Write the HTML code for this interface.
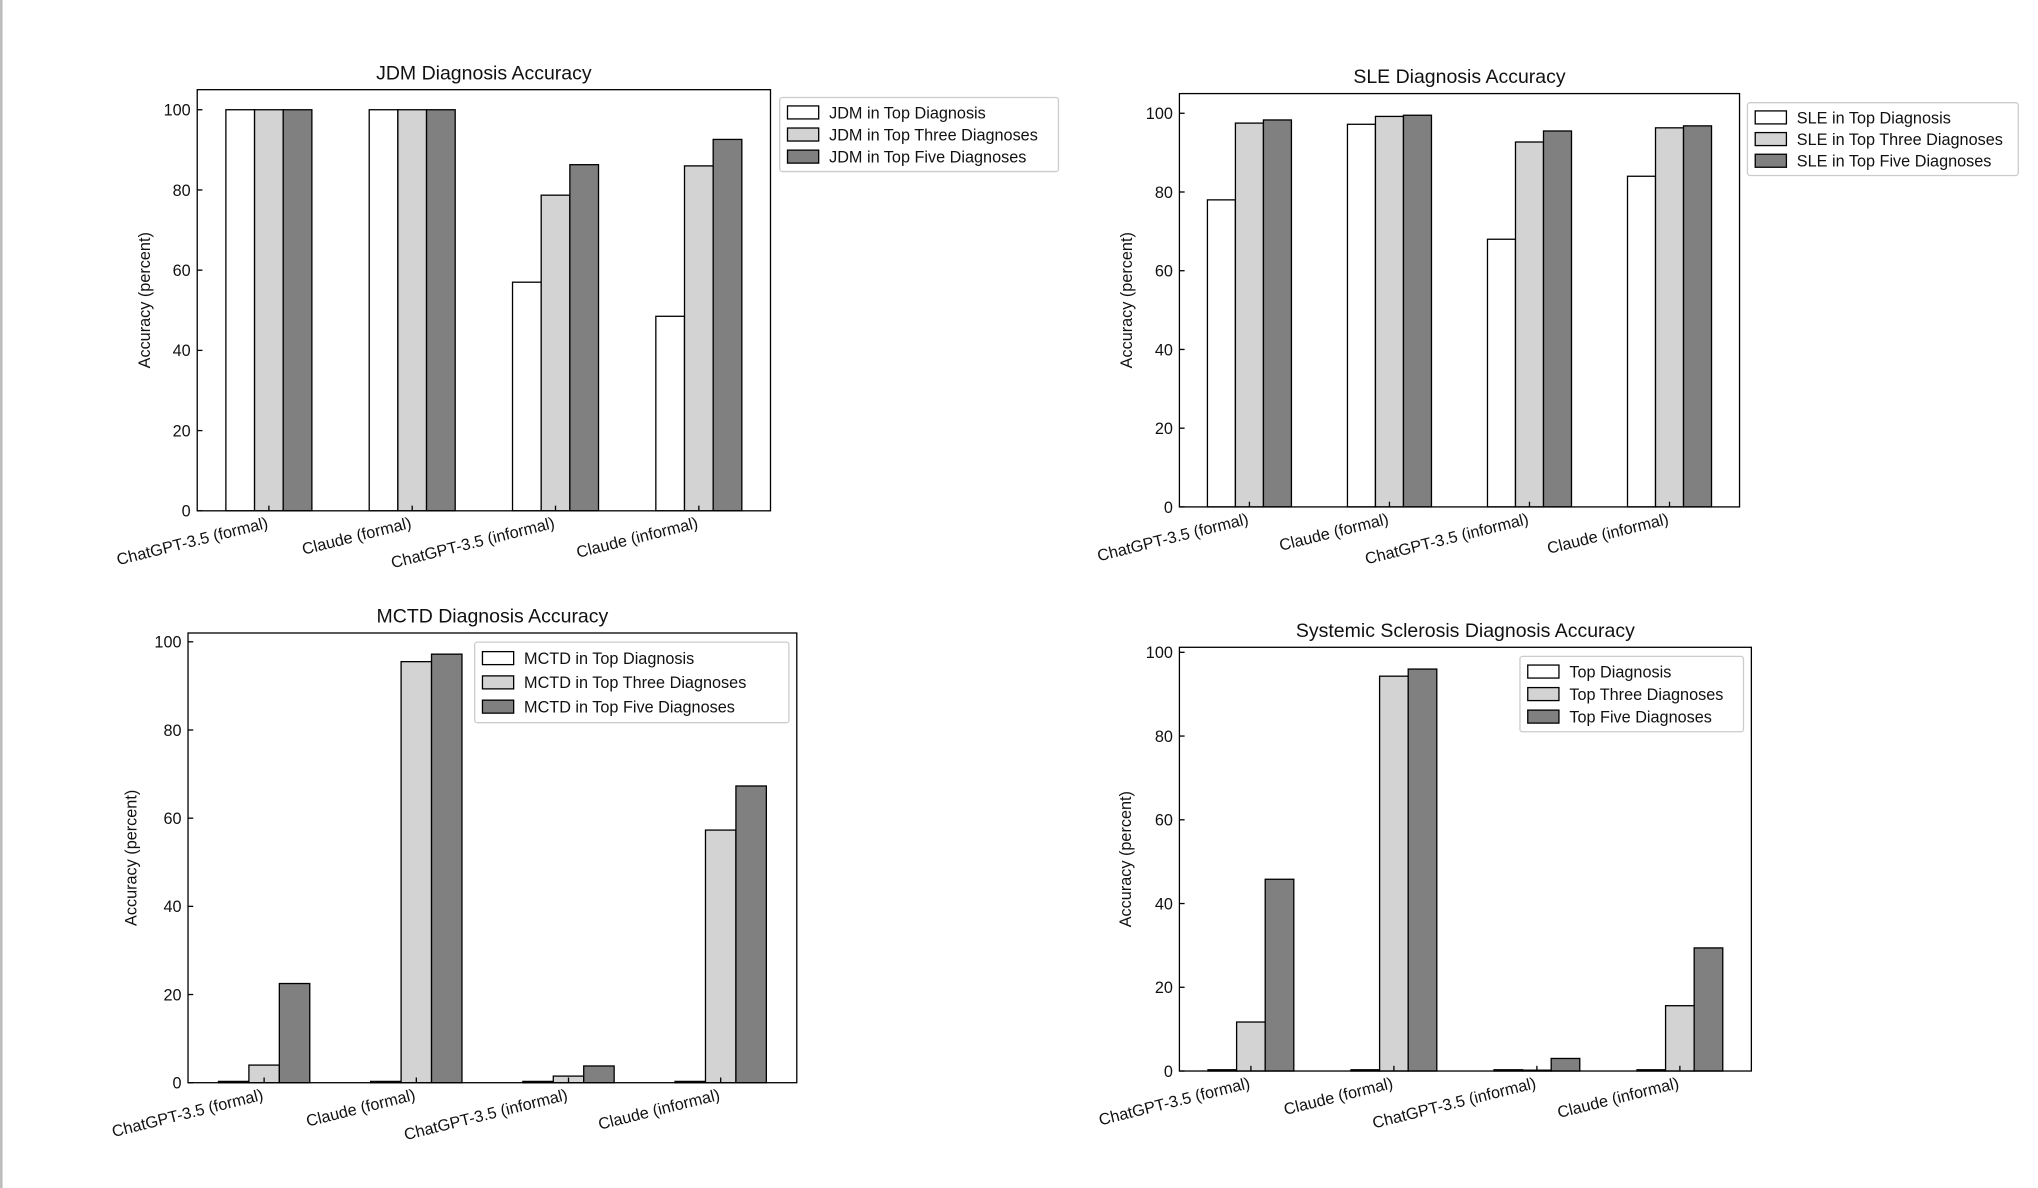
<!DOCTYPE html>
<html><head><meta charset="utf-8"><style>
html,body{margin:0;padding:0;background:#fff;}
svg{display:block;}
text{font-family:"Liberation Sans",sans-serif;fill:#111;}
</style></head><body>
<svg id="fig" width="2038" height="1188" viewBox="0 0 1568 914" preserveAspectRatio="none" xmlns="http://www.w3.org/2000/svg">
<rect x="0" y="0" width="1568" height="914" fill="#fff"/>
<rect x="0" y="0" width="2" height="914" fill="#bdbdbd"/>
</svg>
<script>
const categories = ["ChatGPT-3.5 (formal)", "Claude (formal)", "ChatGPT-3.5 (informal)", "Claude (informal)"];
const yTicks = [0, 20, 40, 60, 80, 100];
const jdmTop = [100, 100, 57, 48.5];
const jdmThree = [100, 100, 78.7, 86];
const jdmFive = [100, 100, 86.3, 92.6];
const sleTop = [78, 97.2, 68, 84];
const sleThree = [97.5, 99.2, 92.7, 96.3];
const sleFive = [98.3, 99.5, 95.5, 96.8];
const mctdTop = [0.3, 0.3, 0.3, 0.3];
const mctdThree = [4, 95.5, 1.5, 57.3];
const mctdFive = [22.5, 97.2, 3.8, 67.3];
const sscTop = [0.3, 0.3, 0.3, 0.3];
const sscThree = [11.7, 94.3, 0.2, 15.6];
const sscFive = [45.8, 96, 3, 29.4];
const jdmLegend = ["JDM in Top Diagnosis", "JDM in Top Three Diagnoses", "JDM in Top Five Diagnoses"];
const sleLegend = ["SLE in Top Diagnosis", "SLE in Top Three Diagnoses", "SLE in Top Five Diagnoses"];
const mctdLegend = ["MCTD in Top Diagnosis", "MCTD in Top Three Diagnoses", "MCTD in Top Five Diagnoses"];
const sscLegend = ["Top Diagnosis", "Top Three Diagnoses", "Top Five Diagnoses"];

const NS = "http://www.w3.org/2000/svg";
const svg = document.getElementById("fig");
const fills = ["#ffffff", "#d3d3d3", "#808080"];
const K = 1568 / 1550;
function mk(tag, attrs, parent) {
  const e = document.createElementNS(NS, tag);
  for (const k in attrs) e.setAttribute(k, attrs[k]);
  (parent || svg).appendChild(e);
  return e;
}
function panel(cfg) {
  const g = mk("g", {});
  
  
  const x0 = cfg.x0 * K, x1 = cfg.x1 * K, y0 = cfg.y0, y1 = cfg.y1, ymax = cfg.ymax;
  const yS = v => y1 - v / ymax * (y1 - y0);
  const n = categories.length;
  const unit = (x1 - x0) / n;
  const xS = v => x0 + (v + 0.5) * unit;
  const bw = 0.2 * unit;
  cfg.series.forEach((arr, s) => {
    arr.forEach((v, i) => {
      const cx = xS(i) + (s - 1) * bw;
      const r = mk("rect", {x: cx - bw / 2, y: yS(v), width: bw, height: y1 - yS(v), fill: fills[s], stroke: "#000", "stroke-width": 1}, g);
      
      
    });
  });
  const fr = mk("rect", {x: x0, y: y0, width: x1 - x0, height: y1 - y0, fill: "none", stroke: "#000", "stroke-width": 1}, g);
  
  
  yTicks.forEach(t => {
    const y = yS(t);
    mk("line", {x1: x0, x2: x0 + 4, y1: y, y2: y, stroke: "#000"}, g);
    const tx = mk("text", {x: x0 - 5, y: y + 4.5, "text-anchor": "end", "font-size": 12.5}, g);
    tx.textContent = t;
    
    
  });
  categories.forEach((c, i) => {
    const x = xS(i);
    mk("line", {x1: x, x2: x, y1: y1, y2: y1 - 4, stroke: "#000"}, g);
    const tx = mk("text", {x: x, y: y1 + 13, "text-anchor": "end", "font-size": 12.5, transform: `rotate(-14 ${x} ${y1 + 13})`}, g);
    tx.textContent = c;
    
    
  });
  const ttl = mk("text", {x: (x0 + x1) / 2, y: y0 - 8, "text-anchor": "middle", "font-size": 15}, g);
  ttl.textContent = cfg.title;
  
  
  const ylx = cfg.ylx * K;
  const yl = mk("text", {x: ylx, y: (y0 + y1) / 2, "text-anchor": "middle", "font-size": 12.5, transform: `rotate(-90 ${ylx} ${(y0 + y1) / 2})`}, g);
  yl.textContent = "Accuracy (percent)";
  
  
  const L = cfg.legend;
  const lx = L.x * K, lw = L.w * K;
  const lg = mk("g", {}, g);
  
  
  mk("rect", {x: lx, y: L.y, width: lw, height: L.h, fill: "#fff", stroke: "#ccc", rx: 2}, lg);
  const step = (L.h - 6) / 3;
  cfg.labels.forEach((lab, s) => {
    const yy = L.y + 3 + step * s + step / 2;
    mk("rect", {x: lx + 6, y: yy - 5, width: 24, height: 10, fill: fills[s], stroke: "#000"}, lg);
    const tx = mk("text", {x: lx + 38, y: yy + 4.5, "font-size": 12.5}, lg);
    tx.textContent = lab;
    
    
  });
}
panel({name: "jdm-chart", key: "jdm", title: "JDM Diagnosis Accuracy", x0: 150, x1: 586, y0: 69, y1: 393, ymax: 105, ylx: 114,
  series: [jdmTop, jdmThree, jdmFive], labels: jdmLegend, legend: {x: 593, y: 75, w: 212, h: 57}});
panel({name: "sle-chart", key: "sle", title: "SLE Diagnosis Accuracy", x0: 897, x1: 1323, y0: 72, y1: 390, ymax: 105, ylx: 861,
  series: [sleTop, sleThree, sleFive], labels: sleLegend, legend: {x: 1329, y: 79, w: 206, h: 56}});
panel({name: "mctd-chart", key: "mctd", title: "MCTD Diagnosis Accuracy", x0: 143, x1: 606, y0: 487, y1: 833, ymax: 102, ylx: 104,
  series: [mctdTop, mctdThree, mctdFive], labels: mctdLegend, legend: {x: 361, y: 494, w: 239, h: 62}});
panel({name: "ssc-chart", key: "ssc", title: "Systemic Sclerosis Diagnosis Accuracy", x0: 897, x1: 1332, y0: 498, y1: 824, ymax: 101.2, ylx: 860,
  series: [sscTop, sscThree, sscFive], labels: sscLegend, legend: {x: 1156, y: 505, w: 170, h: 58}});
</script>
</body></html>
